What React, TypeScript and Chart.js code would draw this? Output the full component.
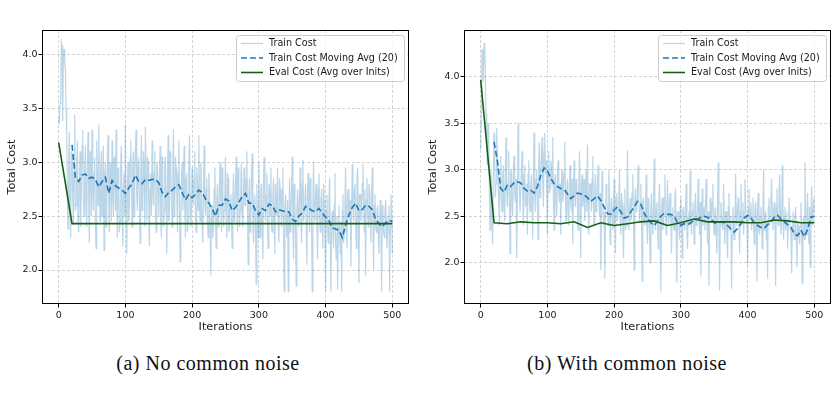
import React, { useEffect, useRef } from "react";
import { Chart, registerables } from "chart.js";

Chart.register(...registerables);

// ---- data -----------------------------------------------------------------

const TRAIN_STEP = 1; // train cost logged every iteration
const MA_START = 20; // moving average (window 20) becomes defined here
const MA_STEP = 5;
const EVAL_STEP = 20;

const X_TICKS = [0, 100, 200, 300, 400, 500];
const Y_TICKS = [2.0, 2.5, 3.0, 3.5, 4.0];

const X_TITLE = "Iterations";
const Y_TITLE = "Total Cost";
const LEGEND_LABELS = ["Train Cost", "Train Cost Moving Avg (20)", "Eval Cost (Avg over Inits)"];
const CAPTIONS = ["(a) No common noise", "(b) With common noise"];

// (a) no common noise — one row per 20 iterations
const trainA = [
  3.42, 3.35, 3.55, 3.60, 4.11, 4.08, 3.38, 3.95, 4.05, 3.90, 3.88, 3.50, 3.30, 2.70, 2.38, 2.95, 3.28, 2.60, 2.30, 3.10,
  3.05, 2.70, 2.42, 2.90, 3.44, 2.55, 2.60, 3.00, 3.20, 2.45, 2.35, 2.85, 3.10, 2.40, 2.75, 3.15, 3.30, 2.65, 2.50, 2.95,
  3.15, 2.65, 2.40, 2.95, 3.28, 2.70, 2.25, 3.10, 2.95, 2.50, 3.30, 2.75, 2.55, 2.90, 3.05, 2.45, 2.20, 3.20, 2.90, 2.60,
  3.35, 2.80, 2.45, 2.95, 3.10, 2.50, 2.70, 3.15, 2.18, 2.85, 3.00, 2.40, 2.55, 3.05, 3.25, 2.60, 2.35, 3.00, 2.85, 2.45,
  3.20, 2.70, 2.50, 3.05, 2.95, 2.55, 3.30, 2.65, 2.30, 2.95, 2.80, 2.35, 2.45, 3.00, 3.15, 2.60, 2.22, 2.75, 2.90, 2.50,
  3.35, 2.60, 2.15, 2.75, 3.00, 2.45, 2.60, 3.05, 3.20, 2.80, 2.40, 2.95, 3.10, 2.50, 2.85, 3.15, 3.30, 2.70, 2.55, 3.00,
  3.05, 2.65, 2.25, 2.90, 3.25, 2.55, 2.70, 3.10, 2.95, 2.40, 3.33, 2.80, 2.45, 3.05, 3.00, 2.60, 2.22, 2.75, 2.90, 2.50,
  3.20, 2.75, 2.60, 2.90, 3.10, 2.55, 2.35, 3.00, 2.95, 2.70, 2.50, 2.85, 3.15, 2.45, 2.30, 3.05, 2.85, 2.40, 2.55, 2.95,
  3.05, 2.60, 2.15, 2.80, 3.25, 2.45, 2.55, 3.10, 2.90, 2.65, 2.40, 2.85, 3.30, 2.50, 2.60, 3.05, 2.95, 2.70, 2.35, 2.90,
  3.20, 2.65, 2.08, 2.50, 2.85, 3.00, 2.55, 2.75, 3.15, 2.60, 2.30, 2.85, 2.90, 2.35, 2.45, 2.95, 3.25, 2.70, 2.40, 2.55,
  2.95, 2.70, 2.60, 2.85, 3.10, 2.50, 2.35, 2.95, 2.80, 2.55, 3.25, 2.65, 2.45, 3.00, 2.75, 2.40, 2.25, 2.80, 3.15, 2.60,
  2.50, 2.75, 2.85, 2.45, 2.30, 2.90, 2.70, 2.35, 1.95, 2.55, 2.60, 2.30, 2.40, 2.75, 2.95, 2.50, 2.20, 2.65, 2.80, 2.40,
  2.45, 2.80, 3.00, 2.60, 2.35, 2.95, 2.75, 2.40, 2.55, 2.70, 3.05, 2.50, 2.30, 2.90, 2.85, 2.35, 2.40, 2.65, 2.70, 2.45,
  2.20, 2.65, 2.90, 2.45, 2.50, 2.80, 3.05, 2.60, 2.35, 2.95, 2.75, 2.40, 2.55, 2.85, 3.00, 2.50, 2.40, 2.75, 2.95, 2.60,
  2.60, 2.85, 3.10, 2.55, 2.05, 2.70, 2.85, 2.35, 2.45, 2.90, 3.08, 2.50, 2.25, 2.65, 2.70, 2.40, 1.87, 2.80, 2.55, 2.30,
  3.00, 2.55, 2.30, 2.75, 2.80, 2.40, 2.10, 2.85, 3.05, 2.60, 2.45, 2.70, 2.90, 2.35, 2.20, 2.80, 2.75, 2.50, 2.95, 2.40,
  2.35, 2.70, 2.85, 2.45, 2.15, 2.80, 2.65, 2.50, 2.95, 2.40, 2.25, 2.85, 2.75, 2.55, 2.40, 2.75, 2.95, 2.35, 1.80, 2.60,
  2.70, 2.45, 2.30, 2.65, 1.80, 2.40, 2.85, 2.35, 2.50, 2.75, 3.05, 2.40, 2.10, 2.80, 2.60, 2.30, 1.85, 2.55, 2.75, 2.50,
  2.40, 2.70, 2.95, 2.50, 2.25, 2.80, 3.02, 2.45, 2.55, 2.65, 2.80, 2.35, 2.05, 2.75, 2.90, 2.55, 2.35, 2.85, 2.70, 2.40,
  1.80, 2.60, 3.00, 2.55, 2.45, 2.70, 2.80, 2.40, 2.10, 2.75, 2.90, 2.50, 2.35, 2.65, 2.75, 2.45, 2.20, 2.80, 2.65, 2.35,
  1.80, 2.55, 2.70, 2.40, 2.25, 2.65, 2.85, 2.30, 1.80, 2.45, 2.55, 2.35, 2.20, 2.60, 2.90, 2.25, 2.10, 2.50, 1.82, 2.40,
  2.60, 2.30, 2.15, 2.45, 1.80, 2.55, 2.70, 2.25, 2.35, 2.60, 2.95, 2.40, 2.20, 2.70, 2.75, 2.50, 2.45, 2.65, 2.03, 2.55,
  2.98, 2.65, 2.45, 2.75, 2.80, 2.50, 2.20, 2.85, 2.95, 2.55, 1.88, 2.70, 2.70, 2.45, 2.50, 2.80, 2.98, 2.60, 2.35, 2.75,
  1.95, 2.65, 2.85, 2.55, 2.40, 2.80, 2.75, 2.50, 2.25, 2.70, 2.95, 2.45, 2.00, 2.60, 2.70, 2.40, 2.35, 2.55, 2.60, 2.30,
  2.15, 2.50, 2.65, 2.40, 1.80, 2.60, 2.55, 2.35, 2.30, 2.55, 2.65, 2.45, 2.20, 2.35, 2.50, 2.60, 1.80, 2.40, 2.70, 2.55,
  2.15,
];

// moving average, iterations 20, 25, ..., 500
const movingAvgA = [
  3.16, 2.86, 2.82, 2.88, 2.89, 2.85, 2.86, 2.84, 2.77, 2.82,
  2.86, 2.71, 2.83, 2.78, 2.76, 2.74, 2.71, 2.76, 2.80, 2.88,
  2.82, 2.80, 2.84, 2.83, 2.84, 2.84, 2.81, 2.72, 2.68, 2.72,
  2.74, 2.77, 2.79, 2.72, 2.65, 2.70, 2.67, 2.70, 2.74, 2.72,
  2.66, 2.62, 2.57, 2.50, 2.60, 2.60, 2.66, 2.64, 2.55, 2.58,
  2.63, 2.68, 2.71, 2.62, 2.62, 2.55, 2.51, 2.57, 2.55, 2.61,
  2.60, 2.54, 2.56, 2.55, 2.54, 2.54, 2.47, 2.45, 2.50, 2.53,
  2.59, 2.57, 2.55, 2.54, 2.57, 2.53, 2.49, 2.46, 2.39, 2.38,
  2.37, 2.30, 2.42, 2.51, 2.58, 2.62, 2.55, 2.56, 2.60, 2.59,
  2.56, 2.47, 2.43, 2.40, 2.44, 2.46, 2.45,
];

// eval cost, iterations 0, 20, ..., 500
const evalA = [
  3.18, 2.43, 2.43, 2.43, 2.43, 2.43, 2.43, 2.43, 2.43, 2.43,
  2.43, 2.43, 2.43, 2.43, 2.43, 2.43, 2.43, 2.43, 2.43, 2.43,
  2.43, 2.43, 2.43, 2.43, 2.43, 2.43,
];

// (b) with common noise — one row per 20 iterations
const trainB = [
  3.22, 3.60, 4.30, 4.10, 3.95, 4.35, 4.37, 4.00, 3.60, 3.30, 3.05, 3.50, 3.42, 2.80, 2.35, 3.00, 2.90, 2.45, 2.20, 2.95,
  3.40, 3.10, 2.70, 2.85, 3.45, 3.20, 2.95, 2.65, 2.40, 2.90, 3.15, 2.70, 2.55, 2.95, 3.05, 2.60, 2.45, 3.00, 3.35, 2.75,
  2.60, 2.85, 3.20, 2.70, 2.10, 2.95, 3.00, 2.60, 2.50, 3.05, 3.15, 2.75, 2.65, 2.90, 2.05, 2.70, 3.50, 3.00, 2.80, 2.55,
  2.55, 3.00, 3.20, 2.75, 2.40, 2.95, 3.05, 2.60, 2.70, 2.85, 2.30, 2.95, 3.10, 2.65, 2.55, 2.80, 2.95, 2.60, 2.25, 2.90,
  3.40, 2.75, 2.55, 2.90, 3.00, 2.65, 2.25, 3.05, 3.30, 2.70, 2.90, 3.15, 3.35, 2.85, 2.60, 3.20, 3.40, 2.95, 3.10, 2.80,
  2.30, 3.00, 3.20, 2.75, 2.80, 3.10, 3.05, 2.85, 3.35, 2.70, 2.35, 2.90, 2.95, 2.65, 2.50, 2.95, 3.10, 2.75, 2.65, 2.85,
  2.30, 2.85, 3.00, 2.65, 2.75, 2.95, 3.30, 2.70, 2.45, 2.80, 2.90, 2.60, 2.40, 2.85, 3.05, 2.65, 2.55, 2.90, 2.20, 2.75,
  3.10, 2.70, 2.60, 2.90, 2.85, 2.65, 2.35, 2.80, 3.20, 2.75, 2.05, 2.85, 2.95, 2.60, 2.70, 2.90, 2.45, 2.80, 3.00, 2.55,
  3.27, 2.65, 2.30, 2.85, 2.85, 2.70, 2.55, 2.90, 3.15, 2.60, 2.40, 2.80, 2.95, 2.55, 2.60, 2.85, 3.05, 2.70, 2.50, 2.75,
  1.92, 2.60, 2.99, 2.70, 2.40, 2.55, 1.83, 2.45, 2.85, 2.65, 2.60, 2.40, 3.00, 2.75, 2.20, 2.50, 2.70, 2.60, 2.35, 2.45,
  2.90, 2.55, 2.10, 2.70, 2.75, 2.45, 2.55, 2.65, 3.00, 2.50, 2.30, 2.75, 2.65, 2.40, 2.05, 2.60, 2.80, 2.35, 2.40, 2.55,
  3.21, 2.60, 2.35, 2.55, 2.70, 2.45, 2.50, 2.75, 2.95, 2.50, 1.92, 2.65, 2.80, 2.55, 2.60, 2.80, 3.05, 2.70, 2.45, 2.60,
  2.85, 2.50, 1.80, 2.65, 2.70, 2.45, 2.40, 2.55, 2.95, 2.40, 2.20, 2.70, 2.60, 2.35, 2.00, 2.60, 2.75, 2.45, 2.30, 2.55,
  3.12, 2.50, 2.35, 2.60, 2.65, 2.40, 2.15, 2.65, 2.85, 2.45, 1.69, 2.55, 2.70, 2.35, 2.45, 2.70, 2.95, 2.50, 2.30, 2.60,
  2.89, 2.55, 2.40, 2.65, 2.75, 2.45, 2.10, 2.50, 2.60, 2.40, 2.35, 2.70, 2.80, 2.30, 1.78, 2.55, 2.55, 2.45, 2.25, 2.60,
  2.70, 2.40, 2.05, 2.55, 2.60, 2.45, 2.35, 2.60, 2.85, 2.35, 2.15, 2.50, 2.55, 2.40, 2.99, 2.45, 2.30, 2.55, 2.65, 2.50,
  2.20, 2.60, 2.75, 2.40, 2.45, 2.55, 2.90, 2.50, 2.30, 2.65, 1.85, 2.45, 2.80, 2.40, 2.55, 2.60, 2.35, 2.70, 2.90, 2.45,
  2.20, 2.55, 1.75, 2.40, 2.70, 2.50, 2.45, 2.65, 2.85, 2.40, 2.30, 2.55, 2.60, 2.35, 2.10, 2.60, 3.08, 2.45, 1.70, 2.40,
  2.65, 2.50, 2.40, 2.35, 2.85, 2.45, 2.20, 2.55, 2.55, 2.30, 2.05, 2.60, 2.75, 2.40, 2.35, 2.50, 1.72, 2.30, 2.60, 2.45,
  2.25, 2.35, 2.96, 2.50, 2.40, 2.60, 2.70, 2.45, 2.10, 2.55, 2.85, 2.40, 2.50, 2.65, 2.30, 2.55, 2.90, 2.60, 2.45, 2.50,
  1.97, 2.60, 2.80, 2.45, 2.55, 2.65, 2.35, 2.50, 2.70, 2.40, 2.20, 2.55, 2.65, 2.45, 1.80, 2.60, 2.75, 2.35, 2.30, 2.50,
  2.60, 2.40, 2.15, 2.50, 3.00, 2.35, 2.40, 2.55, 2.25, 2.45, 1.83, 2.60, 2.70, 2.40, 2.45, 2.65, 2.90, 2.50, 2.35, 2.55,
  2.65, 2.50, 1.75, 2.60, 2.80, 2.45, 2.40, 2.70, 2.95, 2.55, 2.30, 2.40, 3.05, 2.60, 2.25, 2.50, 2.60, 2.35, 2.45, 2.55,
  2.15, 2.45, 2.70, 2.55, 2.35, 2.30, 1.89, 2.40, 2.55, 2.35, 2.25, 2.50, 2.60, 2.25, 1.95, 2.45, 2.40, 2.30, 2.20, 2.40,
  2.65, 2.35, 1.78, 2.40, 2.50, 2.25, 3.08, 2.45, 2.30, 2.55, 2.75, 2.35, 2.20, 2.60, 1.95, 2.50, 2.82, 2.45, 2.40, 2.70,
  2.55,
];

// moving average, iterations 20, 25, ..., 500
const movingAvgB = [
  3.30, 3.10, 2.80, 2.76, 2.84, 2.82, 2.86, 2.87, 2.86, 2.80,
  2.77, 2.78, 2.75, 2.82, 2.94, 3.02, 2.99, 2.91, 2.85, 2.82,
  2.80, 2.79, 2.74, 2.69, 2.72, 2.75, 2.74, 2.73, 2.70, 2.66,
  2.69, 2.72, 2.67, 2.60, 2.53, 2.52, 2.57, 2.60, 2.55, 2.48,
  2.49, 2.55, 2.60, 2.66, 2.63, 2.53, 2.48, 2.43, 2.40, 2.45,
  2.50, 2.53, 2.52, 2.52, 2.50, 2.43, 2.40, 2.42, 2.41, 2.43,
  2.46, 2.47, 2.49, 2.50, 2.49, 2.47, 2.43, 2.42, 2.44, 2.43,
  2.40, 2.36, 2.33, 2.37, 2.42, 2.48, 2.51, 2.48, 2.43, 2.40,
  2.38, 2.37, 2.41, 2.44, 2.49, 2.51, 2.47, 2.44, 2.41, 2.38,
  2.31, 2.29, 2.35, 2.28, 2.36, 2.49, 2.50,
];

// eval cost, iterations 0, 20, ..., 500
const evalB = [
  3.97, 2.43, 2.42, 2.44, 2.43, 2.43, 2.42, 2.44, 2.38, 2.43,
  2.40, 2.42, 2.44, 2.45, 2.40, 2.43, 2.47, 2.44, 2.44, 2.44,
  2.43, 2.43, 2.46, 2.45, 2.43, 2.43,
];

// ---- styling --------------------------------------------------------------

const FONT = "'DejaVu Sans', sans-serif";
const TRAIN_COLOR = "rgba(31,119,180,0.3)";
const MA_COLOR = "#1f77b4";
const EVAL_COLOR = "#166016";
const MA_DASH = [6, 3];
const GRID_COLOR = "#c9c9c9";
const TEXT_COLOR = "#1a1a1a";

const toPoints = (vals: number[], start: number, step: number) =>
  vals.map((y, i) => ({ x: start + i * step, y }));

// Full rectangular frame around the plot area, like matplotlib spines.
const framePlugin = {
  id: "frame",
  afterDraw(chart: any) {
    const { ctx, chartArea } = chart;
    const l = Math.round(chartArea.left) + 0.5;
    const t = Math.round(chartArea.top) + 0.5;
    const r = Math.round(chartArea.right) - 0.5;
    const b = Math.round(chartArea.bottom) - 0.5;
    ctx.save();
    ctx.strokeStyle = "#000";
    ctx.lineWidth = 1;
    ctx.strokeRect(l, t, r - l, b - t);
    ctx.restore();
  },
};

// Legend box in the upper-right corner of the plot area.
const legendPlugin = {
  id: "cornerLegend",
  afterDraw(chart: any) {
    const { ctx, chartArea } = chart;
    const w = 168;
    const h = 46;
    const x = chartArea.right - 5 - w;
    const y = chartArea.top + 5;
    ctx.save();
    ctx.beginPath();
    ctx.roundRect(x + 0.5, y + 0.5, w, h, 3);
    ctx.fillStyle = "rgba(255,255,255,0.8)";
    ctx.fill();
    ctx.strokeStyle = "#cccccc";
    ctx.lineWidth = 1;
    ctx.stroke();

    const styles = [
      { color: TRAIN_COLOR, width: 1.3, dash: [] as number[] },
      { color: MA_COLOR, width: 1.6, dash: MA_DASH },
      { color: EVAL_COLOR, width: 1.6, dash: [] as number[] },
    ];
    ctx.font = `9.6px ${FONT}`;
    ctx.textBaseline = "middle";
    ctx.textAlign = "left";
    LEGEND_LABELS.forEach((label, i) => {
      const cy = y + 8.5 + i * 14.5;
      const st = styles[i];
      ctx.beginPath();
      ctx.setLineDash(st.dash);
      ctx.strokeStyle = st.color;
      ctx.lineWidth = st.width;
      ctx.moveTo(x + 5, cy);
      ctx.lineTo(x + 27, cy);
      ctx.stroke();
      ctx.setLineDash([]);
      ctx.fillStyle = TEXT_COLOR;
      ctx.fillText(label, x + 33, cy);
    });
    ctx.restore();
  },
};

type PanelProps = {
  train: number[];
  movingAvg: number[];
  evalCost: number[];
  yMin: number;
  yMax: number;
  left: number;
  width: number;
  axisWidth: number;
  padRight: number;
  yTitlePad: number;
};

function Panel(p: PanelProps) {
  const ref = useRef<HTMLCanvasElement | null>(null);

  useEffect(() => {
    if (!ref.current) return;
    const axisGrid = {
      color: GRID_COLOR,
      lineWidth: 0.8,
      drawTicks: true,
      tickLength: 3.5,
      tickColor: "#000",
      tickWidth: 1,
    };
    const chart = new Chart(ref.current, {
      type: "line",
      data: {
        datasets: [
          {
            label: LEGEND_LABELS[0],
            data: toPoints(p.train, 0, TRAIN_STEP),
            borderColor: TRAIN_COLOR,
            borderWidth: 1.2,
            pointRadius: 0,
            order: 3,
          },
          {
            label: LEGEND_LABELS[1],
            data: toPoints(p.movingAvg, MA_START, MA_STEP),
            borderColor: MA_COLOR,
            borderWidth: 1.6,
            borderDash: MA_DASH,
            pointRadius: 0,
            order: 2,
          },
          {
            label: LEGEND_LABELS[2],
            data: toPoints(p.evalCost, 0, EVAL_STEP),
            borderColor: EVAL_COLOR,
            borderWidth: 1.6,
            pointRadius: 0,
            order: 1,
          },
        ],
      },
      options: {
        animation: false,
        responsive: false,
        maintainAspectRatio: false,
        devicePixelRatio: 1,
        events: [],
        layout: { padding: { top: 30, right: p.padRight, bottom: 0, left: 0 } },
        elements: { line: { tension: 0 } },
        plugins: { legend: { display: false }, tooltip: { enabled: false } },
        scales: {
          x: {
            type: "linear",
            min: -25,
            max: 525,
            afterBuildTicks: (s: any) => {
              s.ticks = X_TICKS.map((v) => ({ value: v }));
            },
            afterFit: (s: any) => {
              s.height = 36;
            },
            grid: axisGrid,
            border: { display: false, dash: [3, 2] },
            ticks: {
              font: { family: FONT, size: 9.5 },
              color: TEXT_COLOR,
              padding: 2.5,
              maxRotation: 0,
              autoSkip: false,
              callback: (v: any) => String(v),
            },
            title: {
              display: true,
              text: X_TITLE,
              font: { family: FONT, size: 11.3 },
              color: TEXT_COLOR,
              padding: { top: 0, bottom: 6 },
            },
          },
          y: {
            type: "linear",
            min: p.yMin,
            max: p.yMax,
            afterBuildTicks: (s: any) => {
              s.ticks = Y_TICKS.map((v) => ({ value: v }));
            },
            afterFit: (s: any) => {
              s.width = p.axisWidth;
            },
            grid: axisGrid,
            border: { display: false, dash: [3, 2] },
            ticks: {
              font: { family: FONT, size: 9.5 },
              color: TEXT_COLOR,
              padding: 1,
              autoSkip: false,
              callback: (v: any) => Number(v).toFixed(1),
            },
            title: {
              display: true,
              text: Y_TITLE,
              font: { family: FONT, size: 11.3 },
              color: TEXT_COLOR,
              padding: { top: p.yTitlePad, bottom: 0 },
            },
          },
        },
      },
      plugins: [framePlugin, legendPlugin],
    } as any);
    return () => chart.destroy();
  }, []);

  return (
    <canvas
      ref={ref}
      width={p.width}
      height={340}
      style={{ position: "absolute", left: p.left, top: 0, width: p.width, height: 340 }}
    />
  );
}

const captionStyle = (cx: number): React.CSSProperties => ({
  position: "absolute",
  left: cx - 150,
  width: 300,
  top: 350,
  textAlign: "center",
  fontFamily: "'Liberation Serif', serif",
  fontSize: 20,
  letterSpacing: 0.5,
  lineHeight: "26px",
  color: "#111",
  whiteSpace: "nowrap",
});

export default function App() {
  return (
    <div
      style={{
        position: "absolute",
        left: 0,
        top: 0,
        width: 838,
        height: 398,
        background: "#fff",
        overflow: "hidden",
      }}
    >
      <Panel
        train={trainA}
        movingAvg={movingAvgA}
        evalCost={evalA}
        yMin={1.685}
        yMax={4.225}
        left={0}
        width={420}
        axisWidth={42}
        padRight={11}
        yTitlePad={5.2}
      />
      <Panel
        train={trainB}
        movingAvg={movingAvgB}
        evalCost={evalB}
        yMin={1.555}
        yMax={4.506}
        left={420}
        width={418}
        axisWidth={44}
        padRight={7}
        yTitlePad={6.2}
      />
      <div style={captionStyle(208)}>{CAPTIONS[0]}</div>
      <div style={captionStyle(627)}>{CAPTIONS[1]}</div>
    </div>
  );
}
